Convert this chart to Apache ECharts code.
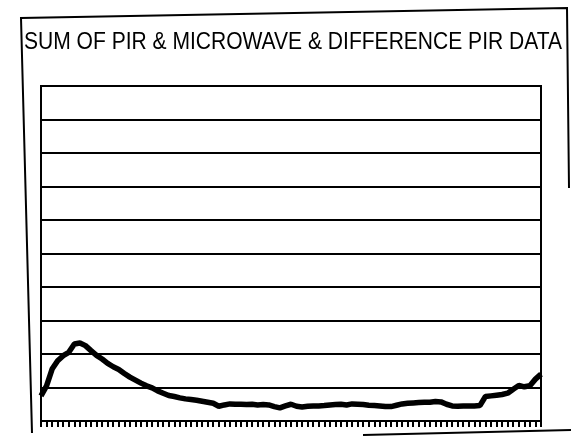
<!DOCTYPE html>
<html>
<head>
<meta charset="utf-8">
<script src="https://cdn.jsdelivr.net/npm/echarts@6/dist/echarts.min.js"></script>
<style>html,body{margin:0;padding:0;background:#fff}#c{width:571px;height:436px}</style>
</head>
<body>
<div id="c"></div>
<script>
var titleText = 'SUM OF PIR & MICROWAVE & DIFFERENCE PIR DATA';
var sumValues = [
  7.5, 10.5, 15.5, 18, 19.5, 20.5, 23, 23.3, 22.5, 21,
  19.6, 18.5, 17.2, 16.2, 15.4, 14.2, 13.1, 12.2, 11.3, 10.5,
  9.9, 9.0, 8.3, 7.6, 7.3, 6.9, 6.6, 6.4, 6.2, 5.9,
  5.6, 5.3, 4.4, 4.8, 5.1, 5.0, 5.0, 4.9, 5.0, 4.8,
  4.9, 4.8, 4.3, 3.9, 4.5, 5.0, 4.4, 4.2, 4.4, 4.5,
  4.5, 4.6, 4.8, 4.9, 5.0, 4.8, 5.1, 5.0, 4.9, 4.7,
  4.6, 4.5, 4.3, 4.3, 4.7, 5.1, 5.3, 5.4, 5.5, 5.6,
  5.6, 5.8, 5.7, 5.0, 4.5, 4.4, 4.5, 4.5, 4.5, 4.6,
  7.3, 7.5, 7.7, 7.9, 8.3, 9.5, 10.6, 10.2, 10.5, 12.5,
  14.0
];
var categories = [];
for (var i = 0; i < sumValues.length; i++) categories.push(String(i + 1));

var titleFont = 'normal 24px "Liberation Sans"';
var ctx = document.createElement('canvas').getContext('2d');
ctx.font = titleFont;
var titleW = ctx.measureText(titleText).width;
var titleScale = 538 / titleW;

var chart = echarts.init(document.getElementById('c'), null, {renderer: 'canvas'});
chart.setOption({
  animation: false,
  backgroundColor: '#fff',
  grid: {left: 41, right: 30, top: 86, bottom: 15, show: true, borderColor: '#000', borderWidth: 2, backgroundColor: 'transparent'},
  xAxis: {
    type: 'category',
    data: categories,
    boundaryGap: false,
    axisLine: {show: true, lineStyle: {color: '#000', width: 2}},
    axisTick: {show: true, inside: false, length: 6, interval: 0, lineStyle: {color: '#000', width: 2}},
    axisLabel: {show: false},
    splitLine: {show: false}
  },
  yAxis: {
    type: 'value',
    min: 0, max: 100, interval: 10,
    axisLine: {show: true, lineStyle: {color: '#000', width: 2}},
    axisTick: {show: false},
    axisLabel: {show: false},
    splitLine: {show: true, lineStyle: {color: '#000', width: 2}}
  },
  series: [{
    type: 'line',
    data: sumValues,
    symbol: 'none',
    lineStyle: {color: '#000', width: 5.5},
    z: 5
  }],
  graphic: [
    {type: 'text', x: 24, y: 42, scaleX: titleScale, scaleY: 1,
      style: {text: titleText, font: titleFont, fill: '#000', verticalAlign: 'middle', align: 'left'}},
    {type: 'polyline', shape: {points: [[32, 433], [21, 18], [567, 8], [569, 188]]}, style: {stroke: '#000', lineWidth: 2, fill: null}},
    {type: 'line', shape: {x1: 363, y1: 435, x2: 571, y2: 430}, style: {stroke: '#000', lineWidth: 2}}
  ]
});
</script>
</body>
</html>
